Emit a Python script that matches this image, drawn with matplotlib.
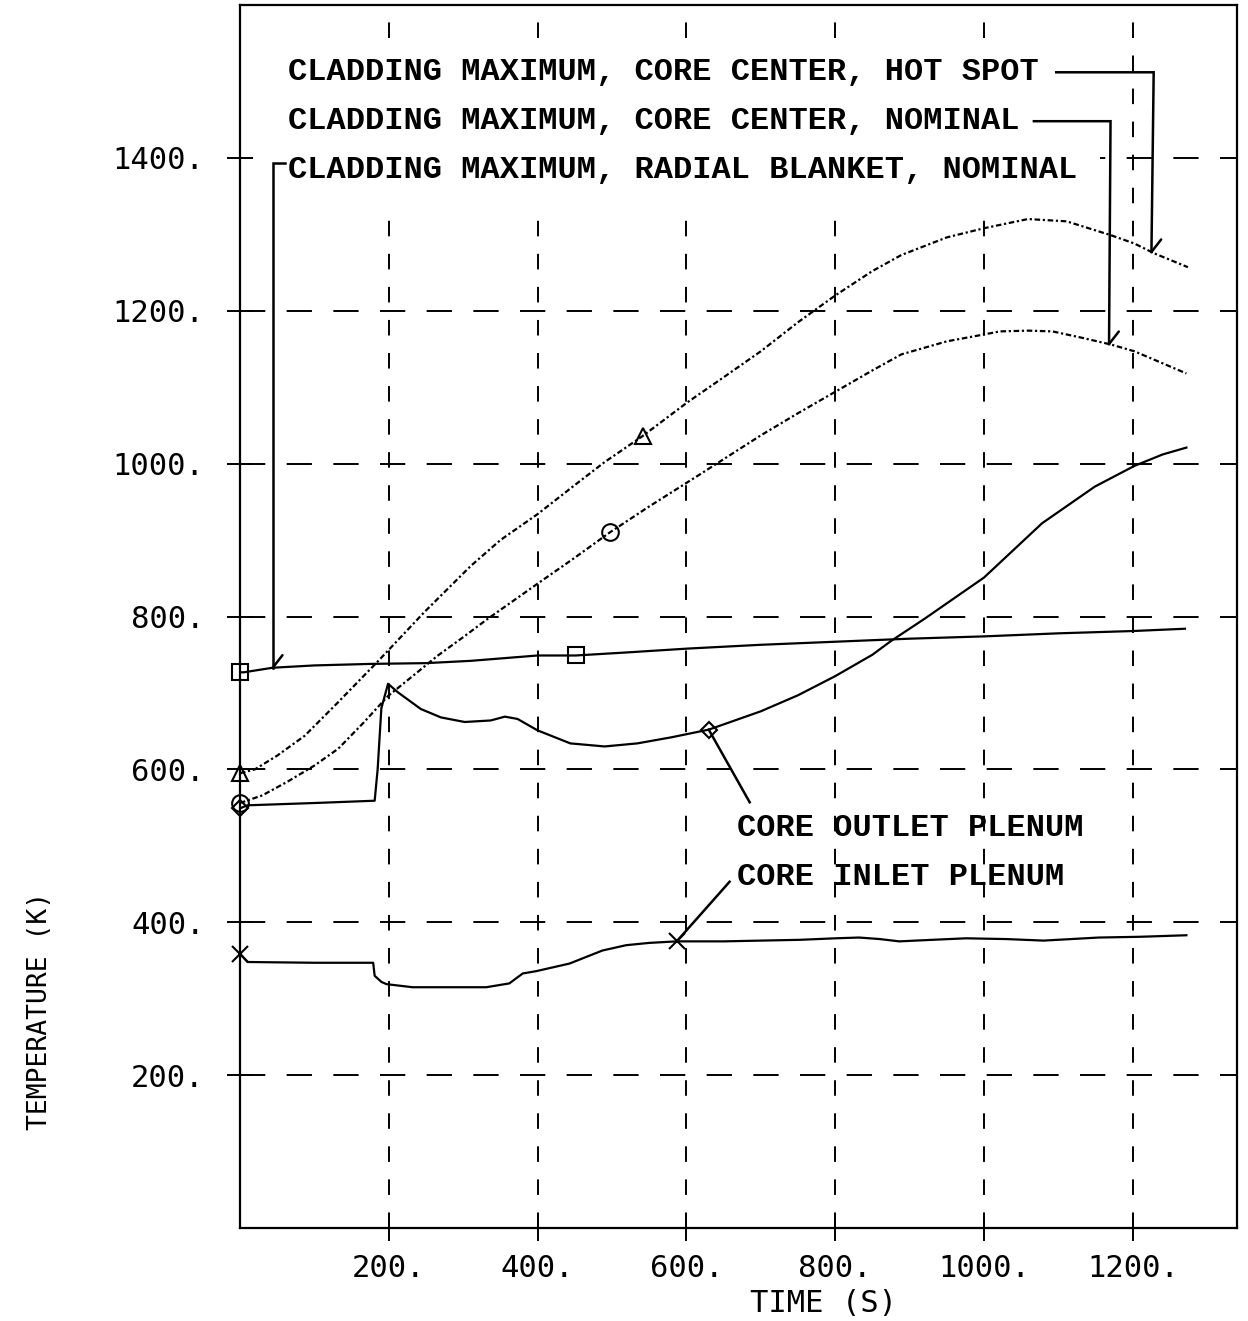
import numpy as np
import matplotlib
matplotlib.use("Agg")
import matplotlib.pyplot as plt
from matplotlib.patches import Rectangle

# ---- temperature histories (time in s, temperature in K) ----
hot_t = [0, 20, 50, 87, 130, 185, 248, 310, 350, 400, 450, 490, 541, 601, 650,
         700, 750, 800, 850, 889, 950, 1000, 1059, 1111, 1170, 1202, 1229, 1274]
hot_T = [595, 600, 618, 644, 686, 741, 806, 866, 900, 934, 972, 1002, 1036, 1080, 1113,
         1147, 1185, 1220, 1252, 1273, 1296, 1308, 1320, 1317, 1299, 1288, 1275, 1257]

nom_t = [0, 30, 64, 100, 132, 165, 199, 232, 266, 300, 333, 400, 450, 497, 550,
         615, 700, 750, 800, 850, 889, 950, 1000, 1021, 1060, 1092, 1130, 1170, 1202, 1272]
nom_T = [556, 566, 584, 605, 627, 660, 696, 722, 749, 773, 797, 843, 877, 910, 944,
         984, 1037, 1066, 1094, 1122, 1143, 1160, 1169, 1173, 1174, 1173, 1165, 1156, 1147, 1118]

rad_t = [0, 5, 44, 100, 176, 250, 310, 400, 451, 520, 601, 700, 800, 900, 1000, 1100, 1200, 1270]
rad_T = [727, 727, 733, 736, 738, 739, 742, 749, 749, 753, 758, 763, 767, 771, 774, 778, 781, 784]

out_t = [0, 10, 100, 181, 185, 190, 199, 212, 243, 270, 302, 337, 356, 373, 400, 444,
         490, 534, 580, 630, 700, 750, 800, 850, 875, 920, 1000, 1078, 1149, 1202, 1240, 1272]
out_T = [549, 553, 556, 559, 600, 680, 712, 701, 679, 668, 662, 664, 669, 666, 651, 634,
         630, 634, 642, 652, 676, 697, 722, 750, 768, 797, 851, 922, 970, 997, 1012, 1021]

inl_t = [0, 10, 100, 179, 181, 190, 197, 232, 300, 331, 362, 380, 398, 443, 487, 519,
         550, 587, 650, 700, 752, 800, 832, 860, 886, 930, 976, 1030, 1080, 1154, 1210, 1272]
inl_T = [359, 348, 347, 347, 330, 322, 319, 315, 315, 315, 320, 333, 336, 346, 363, 370,
         373, 375, 375, 376, 377, 379, 380, 378, 375, 377, 379, 378, 376, 380, 381, 383]

# symbol positions along each history
hot_mark_t = [0, 541]
nom_mark_t = [0, 497]
rad_mark_t = [0, 451]
out_mark_t = [0, 630]
inl_mark_t = [0, 587]

x_ticks = [200, 400, 600, 800, 1000, 1200]
y_ticks = [200, 400, 600, 800, 1000, 1200, 1400]

label_hot = "CLADDING MAXIMUM, CORE CENTER, HOT SPOT"
label_nom = "CLADDING MAXIMUM, CORE CENTER, NOMINAL"
label_rad = "CLADDING MAXIMUM, RADIAL BLANKET, NOMINAL"
label_out = "CORE OUTLET PLENUM"
label_inl = "CORE INLET PLENUM"

TICK_FONT = "DejaVu Sans Mono"
NOTE_FONT = "Liberation Mono"

fig = plt.figure(figsize=(12.48, 13.21), dpi=100)
ax = fig.add_axes([0.1923, 0.0704, 0.7989, 0.9258])
ax.set_xlim(0, 1340)
ax.set_ylim(0, 1600)

for s in ax.spines.values():
    s.set_linewidth(1.6)
    s.set_color("black")

ax.set_xticks(x_ticks)
ax.set_xticklabels([f"{v}." for v in x_ticks], family=TICK_FONT, fontsize=22)
ax.set_yticks(y_ticks)
ax.set_yticklabels([f"{v}." for v in y_ticks], family=TICK_FONT, fontsize=22)
ax.tick_params(axis="both", direction="inout", length=19, width=1.4, colors="black")
ax.tick_params(axis="y", pad=16)
ax.tick_params(axis="x", pad=9)

ax.set_axisbelow(True)
ax.xaxis.grid(True, color="black", linewidth=1.4, linestyle=(0, (8, 9)))
ax.yaxis.grid(True, color="black", linewidth=1.4, linestyle=(0, (13, 11)))

# blank area behind the label block
ax.add_patch(Rectangle((0.013, 0.8365), 0.85, 0.135, transform=ax.transAxes,
                       facecolor="white", edgecolor="none", zorder=1))

dotted = (0, (2.5, 1.2, 1, 1.2))
lw = 1.6
ax.plot(hot_t, hot_T, color="black", lw=lw, linestyle=dotted, zorder=3)
ax.plot(nom_t, nom_T, color="black", lw=lw, linestyle=dotted, zorder=3)
ax.plot(rad_t, rad_T, color="black", lw=lw, zorder=3)
ax.plot(out_t, out_T, color="black", lw=lw, zorder=3)
ax.plot(inl_t, inl_T, color="black", lw=lw, zorder=3)

def marks(tm, t, T, marker, ms):
    ax.plot(tm, np.interp(tm, t, T), linestyle="none", marker=marker, ms=ms,
            mfc="none", mec="black", mew=1.5, zorder=4, clip_on=False)

marks(hot_mark_t, hot_t, hot_T, "^", 12)
marks(nom_mark_t, nom_t, nom_T, "o", 12)
marks(rad_mark_t, rad_t, rad_T, "s", 11)
marks(out_mark_t, out_t, out_T, "D", 8)
marks(inl_mark_t, inl_t, inl_T, "x", 12)

note = dict(family=NOTE_FONT, fontweight="bold", fontsize=23, color="black",
            va="center", ha="left", zorder=5)
ax.text(64, 1512, label_hot, **note)
ax.text(64, 1448, label_nom, **note)
ax.text(64, 1384, label_rad, **note)
ax.text(668, 523, label_out, **note)
ax.text(668, 459, label_inl, **note)

lead = dict(color="black", lw=1.8, zorder=5, solid_joinstyle="miter")

def barb(t_tip, T_tip):
    ax.annotate("", xy=(t_tip, T_tip), xytext=(7, 9), textcoords="offset points",
                arrowprops=dict(arrowstyle="-", lw=1.8, color="black",
                                shrinkA=0, shrinkB=0), zorder=5)

# leader: hot spot
tip_hot = 1225
ax.plot([1097, 1228, tip_hot], [1512, 1512, np.interp(tip_hot, hot_t, hot_T)], **lead)
barb(tip_hot, np.interp(tip_hot, hot_t, hot_T))

# leader: nominal
tip_nom = 1168
ax.plot([1067, 1170, tip_nom], [1448, 1448, np.interp(tip_nom, nom_t, nom_T)], **lead)
barb(tip_nom, np.interp(tip_nom, nom_t, nom_T))

# leader: radial blanket
tip_rad = 44
ax.plot([60, tip_rad, tip_rad], [1393, 1393, np.interp(tip_rad, rad_t, rad_T)], **lead)
barb(tip_rad, np.interp(tip_rad, rad_t, rad_T))

# leaders: plenum curves
ax.plot([out_mark_t[1], 685], [np.interp(out_mark_t[1], out_t, out_T), 557], **lead)
ax.plot([inl_mark_t[1], 658], [np.interp(inl_mark_t[1], inl_t, inl_T), 453], **lead)

fig.text(823 / 1248, 1 - 1304 / 1321, "TIME (S)", family=TICK_FONT, fontsize=22,
         ha="center", va="center")
fig.text(40 / 1248, 1 - 1011 / 1321, "TEMPERATURE (K)", family=TICK_FONT, fontsize=19,
         rotation=90, ha="center", va="center")

fig.savefig("out.png", dpi=100, facecolor="white")
